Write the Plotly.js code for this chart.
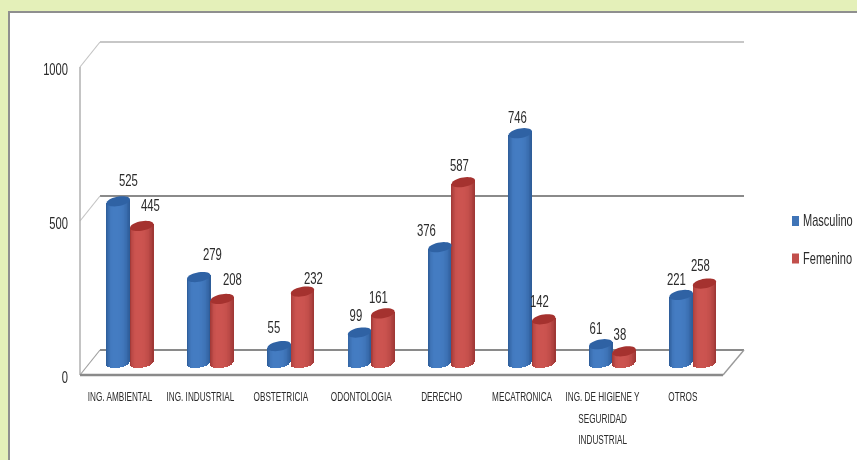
<!DOCTYPE html>
<html><head><meta charset="utf-8">
<script src="https://cdn.plot.ly/plotly-3.0.1.min.js"></script>
<style>
html,body{margin:0;padding:0;width:857px;height:460px;overflow:hidden;background:#e4f0b9}
#panel{position:absolute;left:8px;top:11px;width:849px;height:449px;background:#fff;border-left:2px solid #8f8f8f;border-top:2px solid #8f8f8f;box-sizing:border-box}
#chart{position:absolute;left:0;top:0;width:857px;height:460px;filter:blur(0.55px)}
</style></head><body>
<div id="panel"></div><div id="chart"></div>
<script>
const categories=["ING. AMBIENTAL","ING. INDUSTRIAL","OBSTETRICIA","ODONTOLOGIA","DERECHO","MECATRONICA","ING. DE HIGIENE Y","OTROS"];
const extraLines=["SEGURIDAD","INDUSTRIAL"];
const masculino=[525,279,55,99,376,746,61,221];
const femenino=[445,208,232,161,587,142,38,258];
const yTicks=[0,500,1000];
const seriesNames=["Masculino","Femenino"];

const FONT='"Liberation Sans",Arial,sans-serif', INK='#2b2b2b';
const SQUEEZE={cat:0.63,y:0.70,legend:0.69,value:0.71};
// pixel-to-axis calibration of the oblique drawing
const X0=130,DX=80.4,Y0=363,K=0.308;
const ux=p=>(p-X0)/DX, uy=p=>(Y0-p)/K;
const frontX=-10/DX, backV=13/K, frontV=-12/K;
const R=11.7/DX, capH=4.8/K, tilt=1.8/K, N=30;
const palettes=[{side:-1,base:'#3f74b7',cap:'#2f62a4',rgb:[68,124,194],dark:[44,90,150]},
                {side:1,base:'#c24f4b',cap:'#a5322f',rgb:[204,84,80],dark:[156,54,52]}];
const label={dx:[[10,14,-5,-4,-13,-3,-5,-5],[9,10,11,-4,-4,-4,-4,-4]],
             up:[[21,23,19,17,17,16,16,15],[20,19,13,16,17,18,17,18]]};

const xs=categories.map((_,i)=>i), data=[], shapes=[], annotations=[];
const mix=(a,b,f)=>a.map((v,i)=>Math.round(v+(b[i]-v)*f));
function shade(p,t){
  const f=Math.min(1,Math.abs(t+0.3)/(t<-0.3?0.7:1.3));
  const c=mix(p.rgb,p.dark,f*f*f);
  return `rgb(${c.join(',')})`;
}
[masculino,femenino].forEach((vals,s)=>{
  const p=palettes[s], cx=p.side*R;
  data.push({type:'bar',name:seriesNames[s],x:xs.map(i=>i+cx),y:vals,width:R*1.4,marker:{color:p.base,line:{width:0}},showlegend:false,hoverinfo:'x+y+name'});
  for(let k=0;k<N;k++){
    const t=-1+(2*k+1)/N, sq=Math.sqrt(1-t*t);
    const base=vals.map(()=>-capH*sq+tilt*t);
    data.push({type:'bar',x:xs.map(i=>i+cx+t*R),base:base,y:vals.map((v,j)=>v+tilt*t-base[j]),width:2*R/N*1.5,
      marker:{color:shade(p,t),line:{width:0}},showlegend:false,hoverinfo:'skip'});
  }
  vals.forEach((v,i)=>{
    let d='';
    for(let a=0;a<36;a++){const th=a/36*2*Math.PI;
      d+=(a?'L':'M')+(i+cx+R*Math.cos(th))+','+(v+tilt*Math.cos(th)+capH*Math.sin(th));}
    shapes.push({type:'path',path:d+'Z',xref:'x',yref:'y',fillcolor:p.cap,line:{width:0},layer:'above'});
    annotations.push({x:i+cx,y:v,xref:'x',yref:'y',text:String(v),showarrow:false,xanchor:'center',yanchor:'middle',
      xshift:label.dx[s][i],yshift:label.up[s][i],font:{family:FONT,size:16,color:INK}});
  });
});
// walls and floor of the oblique frame
const xa=ux(80),xb=ux(100),xc=ux(723),xd=ux(744);
const seg=(x0,y0,x1,y1,c,w)=>shapes.push({type:'line',xref:'x',yref:'y',x0,y0,x1,y1,line:{color:c,width:w},layer:'below'});
yTicks.forEach(v=>{
  const light=v===1000;
  seg(xb,v+backV,xd,v+backV,light?'#b4b4b4':'#8a8a8a',light?1.5:2.2);
  seg(xa,v+frontV,xb,v+backV,v===0?'#a0a0a0':'#c4c4c4',1.2);
});
seg(xa,frontV,xa,1000+frontV,'#b0b0b0',1.5);
seg(xa,frontV,xc,frontV,'#8a8a8a',2.4);
seg(xc,frontV,xd,backV,'#9a9a9a',1.4);
// extra lines of the wrapped category label
extraLines.forEach((t,i)=>annotations.push({x:6+frontX,y:uy(375),xref:'x',yref:'y',text:t,showarrow:false,yanchor:'middle',xanchor:'center',
  yshift:-(43+21*i),font:{family:FONT,size:13,color:INK}}));
// legend
const W=857,H=460,L=72,Rm=103,T=30,B=75,pw=W-L-Rm,ph=H-T-B;
const px=p=>(p-L)/pw, py=p=>1-(p-T)/ph;
seriesNames.forEach((n,s)=>{
  const y=221+37.5*s;
  shapes.push({type:'rect',xref:'paper',yref:'paper',x0:px(792),x1:px(799),y0:py(y-5),y1:py(y+5),fillcolor:palettes[s].base,line:{width:0}});
  annotations.push({xref:'paper',yref:'paper',x:px(803),y:py(y),text:n,showarrow:false,xanchor:'left',yanchor:'middle',xshift:-2,font:{family:FONT,size:16,color:INK}});
});
Plotly.newPlot('chart',data,{
  width:W,height:H,margin:{l:L,r:Rm,t:T,b:B},paper_bgcolor:'rgba(0,0,0,0)',plot_bgcolor:'rgba(0,0,0,0)',
  barmode:'overlay',bargap:0,showlegend:false,
  xaxis:{type:'linear',range:[ux(L),ux(W-Rm)],tickmode:'array',tickvals:xs.map(i=>i+frontX),ticktext:categories,ticklabelstandoff:2,
    showgrid:false,zeroline:false,showline:false,ticks:'',ticklen:0,tickangle:0,tickfont:{family:FONT,size:13,color:INK}},
  yaxis:{type:'linear',range:[uy(H-B),uy(T)],tickmode:'array',tickvals:yTicks.map(v=>v+frontV-2/K),ticktext:yTicks.map(String),ticklabelstandoff:3,
    showgrid:false,zeroline:false,showline:false,ticks:'',tickfont:{family:FONT,size:16,color:INK}},
  shapes,annotations
},{displayModeBar:false,staticPlot:true}).then(gd=>{
  // no condensed face is installed: squeeze the real text horizontally, as in the reference
  gd.querySelectorAll('svg text').forEach(el=>{
    const txt=el.textContent.trim();
    if(!txt)return;
    const old=el.getAttribute('transform')||'';
    const m=old.match(/translate\(\s*(-?[\d.]+)/), tx=m?parseFloat(m[1]):0;
    const b=el.getBBox();
    const isY=!!el.closest('.ytick'), isLeg=seriesNames.includes(txt);
    const isCat=!!el.closest('.xtick')||extraLines.includes(txt);
    const sx=isY?SQUEEZE.y:isLeg?SQUEEZE.legend:isCat?SQUEEZE.cat:SQUEEZE.value;
    const a=(isY?b.x+b.width:isLeg?b.x:b.x+b.width/2)+tx;
    el.setAttribute('transform',`translate(${a},0) scale(${sx},1) translate(${-a},0) ${old}`);
  });
});
</script></body></html>
